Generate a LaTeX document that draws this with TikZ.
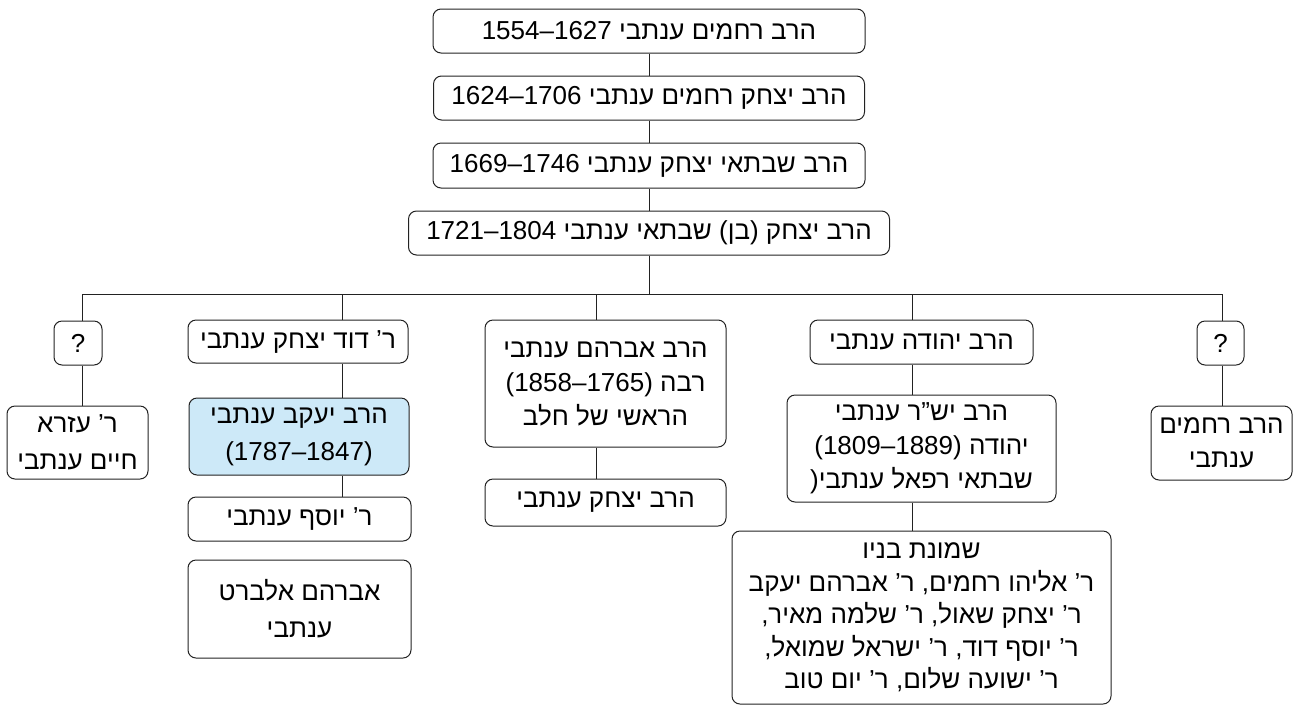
\documentclass[tikz,border=0pt]{standalone}
\usepackage{fontspec}
\setmainfont[Script=Hebrew]{Liberation Sans}
\newfontfamily\latinfont{Liberation Sans}
\TeXXeTstate=1
\newcommand\rtlline[1]{\beginR #1\endR}
\newcommand\ltrseg[1]{\beginL{\latinfont #1}\endL{}}
\definecolor{boxline}{RGB}{34,34,34}
\definecolor{bluefill}{RGB}{205,233,248}
\tikzset{
  famBox/.style={draw=boxline, line width=1pt, rounded corners=8pt, fill=white,
    inner sep=0pt, align=center, font=\fontsize{26}{34}\selectfont},
  wideLines/.style={font=\fontsize{26}{37}\selectfont},
  link/.style={draw=boxline, line width=1pt},
}
\begin{document}
\begin{tikzpicture}[x=1pt,y=-1pt]
\useasboundingbox (0,0) rectangle (1297,705);
% main line
\node[famBox, minimum width=432, minimum height=44] (n1) at (649,31)
  {\rtlline{הרב רחמים ענתבי \ltrseg{1554–1627}}};
\node[famBox, minimum width=431, minimum height=44] (n2) at (649,98)
  {\rtlline{הרב יצחק רחמים ענתבי \ltrseg{1624–1706}}};
\node[famBox, minimum width=432, minimum height=45] (n3) at (649,165.5)
  {\rtlline{הרב שבתאי יצחק ענתבי \ltrseg{1669–1746}}};
\node[famBox, minimum width=481, minimum height=44] (n4) at (649,233)
  {\rtlline{הרב יצחק (בן) שבתאי ענתבי \ltrseg{1721–1804}}};
% bus coordinates
\coordinate (busC) at (649,294);
\coordinate (bus1) at (82,294);
\coordinate (bus2) at (342,294);
\coordinate (bus3) at (596,294);
\coordinate (bus4) at (912,294);
\coordinate (bus5) at (1222,294);
% children
\node[famBox, minimum width=48, minimum height=44] (q1) at (78,343) {?};
\node[famBox, wideLines, minimum width=141, minimum height=73] (ezra) at (77.5,442.5)
  {\rtlline{ר’ עזרא}\\\rtlline{חיים ענתבי}};
\node[famBox, minimum width=220, minimum height=43] (david) at (298,341.5)
  {\rtlline{ר’ דוד יצחק ענתבי}};
\node[famBox, wideLines, fill=bluefill, minimum width=220, minimum height=77] (yaakov) at (299,436.5)
  {\rtlline{הרב יעקב ענתבי}\\\ltrseg{(1787–1847)}};
\node[famBox, minimum width=223, minimum height=44] (yosef) at (299.5,519)
  {\rtlline{ר’ יוסף ענתבי}};
\node[famBox, wideLines, minimum width=223, minimum height=98] (albert) at (299.5,609)
  {\rtlline{אברהם אלברט}\\\rtlline{ענתבי}};
\node[famBox, minimum width=241, minimum height=127] (avraham) at (605.5,383.5)
  {\rtlline{הרב אברהם ענתבי}\\\rtlline{רבה \ltrseg{(1858–1765)}}\\\rtlline{הראשי של חלב}};
\node[famBox, minimum width=241, minimum height=47] (yitzchak) at (605.5,502.5)
  {\rtlline{הרב יצחק ענתבי}};
\node[famBox, minimum width=223, minimum height=44] (yehuda) at (921.5,342)
  {\rtlline{הרב יהודה ענתבי}};
\node[famBox, minimum width=269, minimum height=107] (yashar) at (921.5,448.5)
  {\rtlline{הרב יש”ר ענתבי}\\\rtlline{יהודה \ltrseg{(1809–1889)}}\\\rtlline{שבתאי רפאל ענתבי\ltrseg{)}}};
\node[famBox, minimum width=379, minimum height=173, font=\fontsize{26}{32.5}\selectfont] (sons) at (921.5,617.5)
  {\rtlline{שמונת בניו}\\
   \rtlline{ר’ אליהו רחמים, ר’ אברהם יעקב}\\
   \rtlline{ר’ יצחק שאול, ר’ שלמה מאיר,}\\
   \rtlline{ר’ יוסף דוד, ר’ ישראל שמואל,}\\
   \rtlline{ר’ ישועה שלום, ר’ יום טוב}};
\node[famBox, minimum width=47, minimum height=44] (q2) at (1220.5,343) {?};
\node[famBox, minimum width=141, minimum height=74] (rachamim) at (1221.5,443)
  {\rtlline{הרב רחמים}\\\rtlline{ענתבי}};
% connectors
\draw[link] (n1) -- (n2);
\draw[link] (n2) -- (n3);
\draw[link] (n3) -- (n4);
\draw[link] (n4.south) -- (busC);
\draw[link] (bus1) -- (bus5);
\draw[link] (bus1) -- (bus1 |- q1.north);
\draw[link] (bus1 |- q1.south) -- (bus1 |- ezra.north);
\draw[link] (bus2) -- (bus2 |- david.north);
\draw[link] (bus2 |- david.south) -- (bus2 |- yaakov.north);
\draw[link] (bus2 |- yaakov.south) -- (bus2 |- yosef.north);
\draw[link] (bus3) -- (bus3 |- avraham.north);
\draw[link] (bus3 |- avraham.south) -- (bus3 |- yitzchak.north);
\draw[link] (bus4) -- (bus4 |- yehuda.north);
\draw[link] (bus4 |- yehuda.south) -- (bus4 |- yashar.north);
\draw[link] (bus4 |- yashar.south) -- (bus4 |- sons.north);
\draw[link] (bus5) -- (bus5 |- q2.north);
\draw[link] (bus5 |- q2.south) -- (bus5 |- rachamim.north);
\end{tikzpicture}
\end{document}
